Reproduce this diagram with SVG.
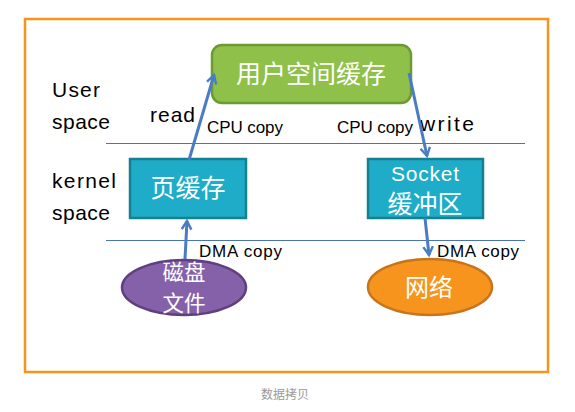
<svg xmlns="http://www.w3.org/2000/svg" width="575" height="412" viewBox="0 0 575 412">
<style>
.lbl{font-family:"Liberation Sans",Arial,sans-serif;fill:#000;}
.cn{font-family:"Noto Sans CJK SC","Liberation Sans",sans-serif;fill:#fff;text-anchor:middle;}
.conn{stroke:#4A7CC4;stroke-width:3;fill:none;marker-end:url(#ah);}
.sep{stroke:#4A74B8;stroke-width:1;}
</style>
<defs>
<marker id="ah" viewBox="0 0 10 10" refX="8" refY="5" markerWidth="4" markerHeight="4" orient="auto" markerUnits="strokeWidth">
<path d="M1,1 L8,5 L1,9" fill="none" stroke="#4A7CC4" stroke-width="2"/>
</marker>
</defs>
<rect x="0" y="0" width="575" height="412" fill="#fff"/>
<rect x="25" y="19" width="523" height="353" fill="#fff" stroke="#F7941E" stroke-width="2.5"/>
<text x="285" y="399" font-family="'Noto Sans CJK SC',sans-serif" font-size="12" fill="#999" text-anchor="middle">数据拷贝</text>
<g id="separators">
<line class="sep" x1="106" y1="143.5" x2="525" y2="143.5"/>
<line class="sep" x1="106" y1="240.5" x2="525" y2="240.5"/>
</g>
<g id="labels">
<text class="lbl" x="52" y="97" font-size="21" textLength="48">User</text>
<text class="lbl" x="52" y="129" font-size="21" textLength="58">space</text>
<text class="lbl" x="52" y="188" font-size="21" textLength="64">kernel</text>
<text class="lbl" x="52" y="220" font-size="21" textLength="58">space</text>
<text class="lbl" x="150" y="122" font-size="21" textLength="45">read</text>
<text class="lbl" x="420" y="131" font-size="21" textLength="54">write</text>
<text class="lbl" x="207" y="133" font-size="17" textLength="76">CPU copy</text>
<text class="lbl" x="337" y="133" font-size="17" textLength="76">CPU copy</text>
<text class="lbl" x="199" y="257" font-size="17" textLength="83">DMA copy</text>
<text class="lbl" x="437" y="257" font-size="17" textLength="82">DMA copy</text>
</g>
<g id="user-buffer">
<rect x="212" y="45" width="199" height="58" rx="10" fill="#8FC04A" stroke="#6E9A34" stroke-width="2.5"/>
<text class="cn" x="311" y="83" font-size="25">用户空间缓存</text>
</g>
<g id="page-cache">
<rect x="130" y="159" width="116" height="59" fill="#1EACC8" stroke="#15808F" stroke-width="2.5"/>
<text class="cn" x="188" y="197" font-size="25">页缓存</text>
</g>
<g id="socket-buffer">
<rect x="368" y="159" width="115" height="59" fill="#1EACC8" stroke="#15808F" stroke-width="2.5"/>
<text x="425" y="181" font-family="'Liberation Sans',Arial,sans-serif" font-size="21" fill="#fff" text-anchor="middle" textLength="68">Socket</text>
<text class="cn" x="425" y="213" font-size="25">缓冲区</text>
</g>
<g id="disk-file">
<ellipse cx="184" cy="287.5" rx="62" ry="27.5" fill="#8561A9" stroke="#5F3F80" stroke-width="2.5"/>
<text class="cn" font-size="21.5"><tspan x="184" y="280">磁盘</tspan><tspan x="184" y="311">文件</tspan></text>
</g>
<g id="network">
<ellipse cx="430" cy="287" rx="62" ry="28" fill="#F7941D" stroke="#C8741A" stroke-width="2.5"/>
<text class="cn" x="429" y="296" font-size="24">网络</text>
</g>
<g id="connectors">
<line class="conn" x1="189" y1="160" x2="214" y2="75"/>
<line class="conn" x1="409" y1="73" x2="427" y2="156"/>
<line class="conn" x1="185" y1="259" x2="187" y2="221"/>
<line class="conn" x1="425" y1="218" x2="429" y2="255"/>
</g>
</svg>
